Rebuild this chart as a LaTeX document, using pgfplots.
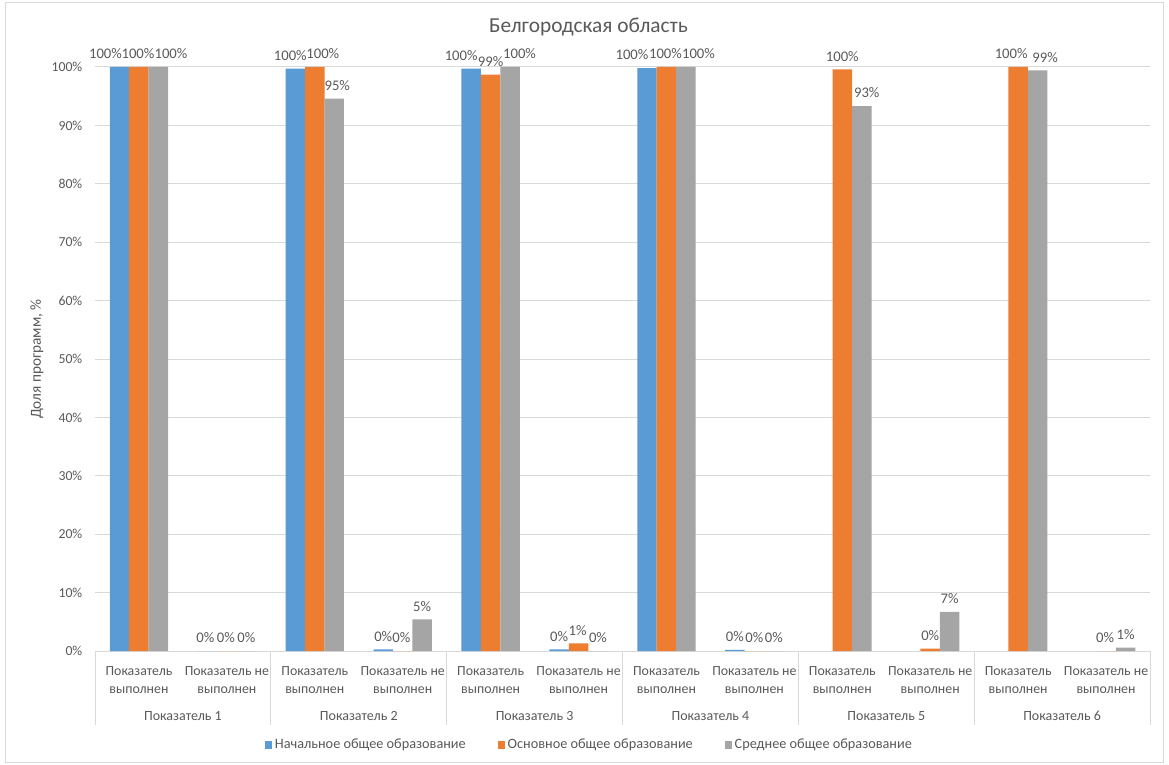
\documentclass[border=0pt]{standalone}
\usepackage{fontspec}
\setmainfont{Carlito}
\usepackage{pgfplots}
\usepackage{pgfplotstable}
\pgfplotsset{compat=1.18}
\definecolor{cblue}{HTML}{5B9BD5}
\definecolor{corange}{HTML}{ED7D31}
\definecolor{cgray}{HTML}{A5A5A5}
\definecolor{txt}{HTML}{595959}
\definecolor{grd}{HTML}{D9D9D9}
\pgfplotsset{sqlegend/.style={legend image code/.code={\fill[##1] (0pt,-2.7pt) rectangle (5.4pt,2.7pt);}}}

\pgfplotstableread{
x y dx
0 100 -10.5
1 0 -1.5
2 99.7 -3.75
3 0.3 0
4 99.7 -7.5
5 0.3 0
6 99.8 -11.25
7 0.2 0
}\tblblue
\pgfplotstableread{
x y dx
0 100 -0.75
1 0 -0.75
2 100 6
3 0 -1
4 98.7 0
5 1.3 -0.75
6 100 -0.75
7 0 0
8 99.6 0
9 0.4 0
10 100 -5.25
11 0 -0.75
}\tblorange
\pgfplotstableread{
x y dx
0 100 9.4
1 0 0
2 94.6 2.25
3 5.4 0
4 100 7.1
5 0 0
6 100 9.4
7 0 0
8 93.3 3.75
9 6.7 0
10 99.4 5.6
11 0.6 0
}\tblgray

\begin{document}
\begin{tikzpicture}
\path (0,0) rectangle (876.75pt,573pt);
\draw[grd, line width=0.75pt] (3.75pt,1.5pt) rectangle (872.25pt,570.75pt);
\begin{axis}[
  at={(71.25pt,84.75pt)}, anchor=south west,
  scale only axis, width=791.25pt, height=438pt,
  xmin=-0.5, xmax=11.5, ymin=0, ymax=100,
  ybar=0pt, bar width=14.6pt,
  /pgf/number format/assume math mode=true,
  axis x line*=bottom, axis y line*=left,
  x axis line style={draw=grd, line width=0.75pt},
  y axis line style={draw=none},
  major tick length=0pt,
  ymajorgrids, grid style={draw=grd, line width=0.75pt},
  ytick={0,10,...,100},
  yticklabel={\pgfmathprintnumber{\tick}\%},
  yticklabel style={font=\fontsize{10.3}{12}\selectfont, text=txt, xshift=-6pt},
  xtick={0,...,11},
  xticklabels={{Показатель\\выполнен},{Показатель не\\выполнен},{Показатель\\выполнен},{Показатель не\\выполнен},{Показатель\\выполнен},{Показатель не\\выполнен},{Показатель\\выполнен},{Показатель не\\выполнен},{Показатель\\выполнен},{Показатель не\\выполнен},{Показатель\\выполнен},{Показатель не\\выполнен}},
  xticklabel style={font=\fontsize{10.4}{13.5}\selectfont, text=txt, align=center, yshift=-8pt},
  ylabel={Доля программ, \%},
  every axis y label/.style={at={(axis description cs:-0.055,0.5)}, rotate=90, anchor=center, font=\fontsize{11.5}{13}\selectfont, text=txt},
  nodes near coords={\pgfmathprintnumber[fixed,precision=0]{\pgfplotspointmeta}\%},
  every node near coord/.append style={font=\fontsize{11}{13}\selectfont, text=txt, xshift=\dx pt, yshift=2.5pt},
  clip=false,
  legend columns=3,
  legend style={at={(0.469,-0.161)}, anchor=center, draw=none, font=\fontsize{10.7}{12}\selectfont, text=txt, /tikz/every even column/.append style={column sep=22pt}},
]
\addplot[fill=cblue, draw=none, sqlegend, visualization depends on={\thisrow{dx}\as\dx}] table[x=x,y=y] {\tblblue};
\addlegendentry{Начальное общее образование}
\addplot[fill=corange, draw=none, sqlegend, visualization depends on={\thisrow{dx}\as\dx}] table[x=x,y=y] {\tblorange};
\addlegendentry{Основное общее образование}
\addplot[fill=cgray, draw=none, sqlegend, visualization depends on={\thisrow{dx}\as\dx}] table[x=x,y=y] {\tblgray};
\addlegendentry{Среднее общее образование}
\end{axis}
\foreach \k in {0,...,6} \draw[grd, line width=0.75pt] ({71.25pt+131.875pt*\k},84.75pt) -- ++(0,-55.5pt);
\foreach \k in {1,...,6} \node[font=\fontsize{10.5}{12}\selectfont, text=txt] at ({71.25pt+131.875pt*(\k-1)+65.9375pt},36pt) {Показатель \k};
\node[font=\fontsize{16}{18}\selectfont, text=txt] at (441.4pt,552.75pt) {Белгородская область};
\end{tikzpicture}
\end{document}
